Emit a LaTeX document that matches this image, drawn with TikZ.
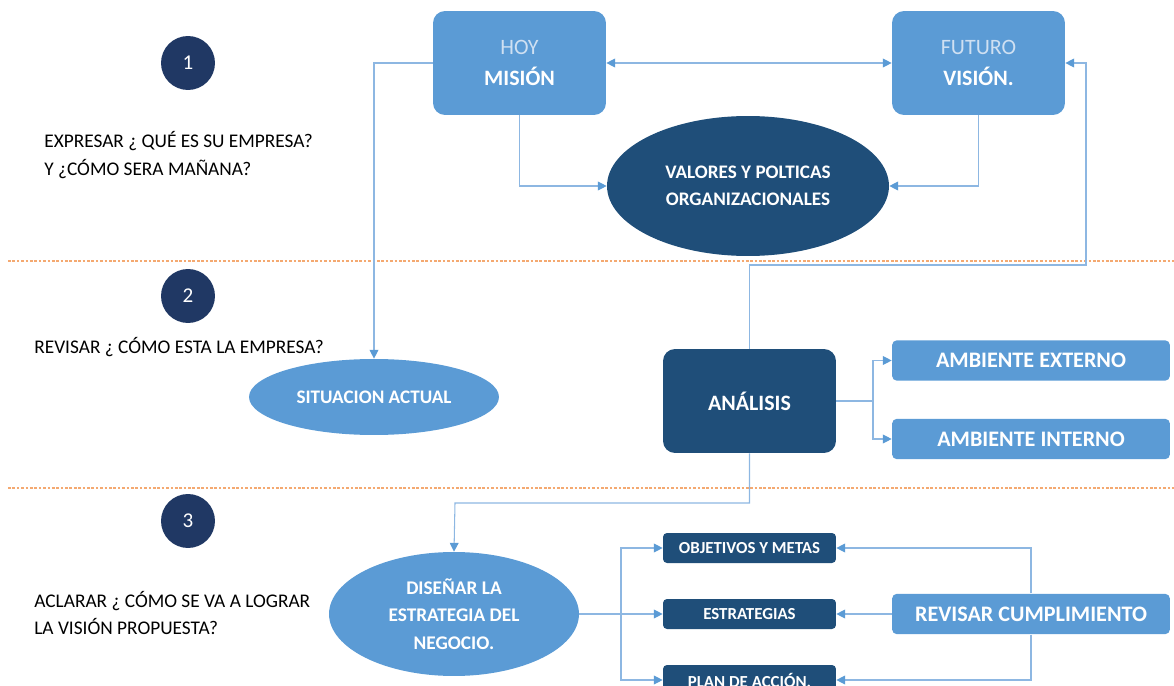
\documentclass[tikz,border=0pt]{standalone}
\usepackage{fontspec}
\setmainfont{Carlito}
\usetikzlibrary{positioning,shapes.geometric,arrows.meta}

\definecolor{azulmedio}{HTML}{5B9BD5}
\definecolor{azuloscuro}{HTML}{1F4E79}
\definecolor{azulnoche}{HTML}{203864}
\definecolor{azullinea}{HTML}{8DB7E2}
\definecolor{azulpalido}{HTML}{CFE0F2}
\definecolor{naranja}{HTML}{F4A971}

\tikzset{
  caja/.style={rectangle, rounded corners=0.24cm, fill=azulmedio, text=white,
    minimum width=3.46cm, minimum height=2.08cm, align=center, inner sep=0pt},
  cajaoscura/.style={caja, fill=azuloscuro},
  barra/.style={rectangle, rounded corners=0.1cm, fill=azulmedio, text=white,
    minimum width=5.56cm, minimum height=0.81cm, inner sep=0pt,
    font=\bfseries\fontsize{12.6pt}{14pt}\selectfont},
  barrita/.style={rectangle, rounded corners=0.08cm, fill=azuloscuro, text=white,
    minimum width=3.46cm, minimum height=0.6cm, inner sep=0pt,
    font=\bfseries\fontsize{9.6pt}{11pt}\selectfont},
  elipse/.style={ellipse, fill=azulmedio, text=white, align=center, inner sep=0pt,
    font=\bfseries\fontsize{10.9pt}{15.5pt}\selectfont},
  numero/.style={circle, fill=azulnoche, text=white, minimum size=1.08cm,
    inner sep=0pt, font=\fontsize{12pt}{14pt}\selectfont},
  pregunta/.style={anchor=west, align=left, text=black, inner sep=0pt,
    font=\fontsize{11pt}{15.9pt}\selectfont},
  punta/.style={Triangle[length=5pt,width=5pt,color=azulmedio]},
  linea/.style={draw=azullinea, line width=0.6pt, -{Triangle[length=5pt,width=5pt,color=azulmedio]}},
  doble/.style={draw=azullinea, line width=0.6pt,
    {Triangle[length=5pt,width=5pt,color=azulmedio]}-{Triangle[length=5pt,width=5pt,color=azulmedio]}},
  tramo/.style={draw=azullinea, line width=0.6pt},
  separador/.style={draw=naranja, line width=0.6pt, dash pattern=on 1.5pt off 1pt}
}

\begin{document}
\begin{tikzpicture}[x=0.02cm, y=-0.02cm]
  \clip (0,0) rectangle (1174,686);

  % Separators
  \draw[separador] (8,261) -- (1174,261);
  \draw[separador] (8,488) -- (1174,488);

  % Steps
  \node[numero] (uno) at (188,63) {1};
  \node[numero] (dos) at (188,296) {2};
  \node[numero] (tres) at (188,521) {3};
  \node[pregunta] (preguntauno) at (44,155) {EXPRESAR ¿ QUÉ ES SU EMPRESA?\\Y ¿CÓMO SERA MAÑANA?};
  \node[pregunta] (preguntados) at (34,347) {REVISAR ¿ CÓMO ESTA LA EMPRESA?};
  \node[pregunta] (preguntatres) at (34,613) {ACLARAR ¿ CÓMO SE VA A LOGRAR\\LA VISIÓN PROPUESTA?};

  % Define nodes
  \node[caja] (hoy) at (519.5,63) {{\fontsize{12.5pt}{16pt}\selectfont\color{azulpalido}HOY}\\[6pt]{\bfseries\fontsize{12.5pt}{16pt}\selectfont MISIÓN}};
  \node[caja] (futuro) at (978.5,63) {{\fontsize{12.5pt}{16pt}\selectfont\color{azulpalido}FUTURO}\\[6pt]{\bfseries\fontsize{12.5pt}{16pt}\selectfont VISIÓN.}};
  \node[elipse, fill=azuloscuro, minimum width=5.64cm, minimum height=2.8cm] (valores) at (748,186) {VALORES Y POLTICAS\\ORGANIZACIONALES};
  \node[elipse, minimum width=5cm, minimum height=1.52cm] (situacion) at (374,397) {SITUACION ACTUAL};
  \node[cajaoscura, font=\bfseries\fontsize{12.5pt}{16pt}\selectfont] (analisis) at (749.5,401) {ANÁLISIS};
  \node[barra] (externo) at (1031,360.5) {AMBIENTE EXTERNO};
  \node[barra] (interno) at (1031,439) {AMBIENTE INTERNO};
  \node[elipse, minimum width=5cm, minimum height=2.48cm, font=\bfseries\fontsize{11pt}{15.5pt}\selectfont] (disenar) at (454,614) {DISEÑAR LA\\ESTRATEGIA DEL\\NEGOCIO.};
  \node[barrita] (objetivos) at (749.5,548) {OBJETIVOS Y METAS};
  \node[barrita] (estrategias) at (749.5,614) {ESTRATEGIAS};
  \node[barrita] (plan) at (749.5,680) {PLAN DE ACCIÓN.};
  \node[barra] (revisar) at (1031,614) {REVISAR CUMPLIMIENTO};

  % Connect the nodes
  \coordinate (codo) at (1086,265);
  \coordinate (rama) at (873,401);
  \coordinate (baja) at (455,503);
  \coordinate (reparto) at (621,614);
  \draw[doble] (hoy.east) -- (futuro.west);
  \draw[linea] (hoy.south) |- (valores.west);
  \draw[linea] (futuro.south) |- (valores.east);
  \draw[linea] (hoy.west) -| (situacion.north);
  \draw[linea] (analisis.north) |- (codo) |- (futuro.east);
  \draw[tramo] (analisis.east) -- (rama);
  \draw[linea] (rama) |- (externo.west);
  \draw[linea] (rama) |- (interno.west);
  \draw[linea] (analisis.south) |- (baja) -- (disenar.north);
  \draw[tramo] (disenar.east) -- (reparto);
  \draw[linea] (reparto) |- (objetivos.west);
  \draw[linea] (reparto) -- (estrategias.west);
  \draw[linea] (reparto) |- (plan.west);
  \draw[linea] (revisar.west) -- (estrategias.east);
  \draw[linea] (revisar.north) |- (objetivos.east);
  \draw[linea] (revisar.south) |- (plan.east);
\end{tikzpicture}
\end{document}
